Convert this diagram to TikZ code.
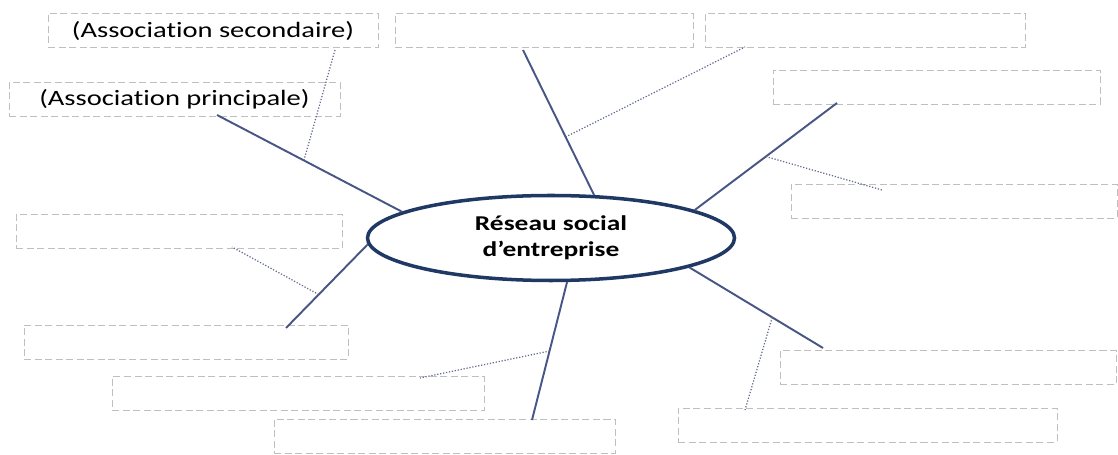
\documentclass[tikz,border=0pt]{standalone}
\usepackage{fontspec}
\setmainfont{Carlito}[FakeStretch=1.3, Ligatures=NoCommon]
\usetikzlibrary{shapes.geometric}
\definecolor{hubline}{RGB}{31,56,100}
\definecolor{spoke}{RGB}{72,86,134}
\definecolor{twig}{RGB}{96,106,140}
\tikzset{
  slot/.style={draw=black!25, dash pattern=on 4pt off 2pt, line width=0.5pt,
    minimum height=34*0.02cm, inner sep=0pt, font=\fontsize{12.5}{15}\selectfont},
  hub/.style={ellipse, draw=hubline, line width=2pt, minimum width=367*0.02cm,
    minimum height=85*0.02cm, align=center, font=\bfseries\fontsize{12}{14.7}\selectfont},
  spokeline/.style={color=spoke, line width=1.1pt},
  twigline/.style={color=twig, line width=0.7pt, densely dotted}
}
\begin{document}
\begin{tikzpicture}[x=0.02cm, y=-0.02cm]
      \useasboundingbox (0,0) rectangle (1118,455);
      \draw
        (551,238) node[hub] (hub) {Réseau social\\d’entreprise}
        (213,30.5) node[slot, minimum width=330*0.02cm] (sec) {(Association secondaire)}
        (544,30.5) node[slot, minimum width=298*0.02cm] (topmid) {}
        (865,30.5) node[slot, minimum width=320*0.02cm] (topright) {}
        (936.5,87) node[slot, minimum width=327*0.02cm] (right1) {}
        (954,201) node[slot, minimum width=326*0.02cm] (right2) {}
        (174.5,99) node[slot, minimum width=331*0.02cm] (pri) {(Association principale)}
        (179,231.5) node[slot, minimum width=326*0.02cm] (left1) {}
        (186,342) node[slot, minimum width=324*0.02cm] (left2) {}
        (298,393.5) node[slot, minimum width=372*0.02cm] (botleft) {}
        (444.5,436) node[slot, minimum width=341*0.02cm] (bot) {}
        (948,367.5) node[slot, minimum width=336*0.02cm] (botright1) {}
        (867.5,425) node[slot, minimum width=379*0.02cm] (botright2) {};
      \draw
        (217,115) coordinate (pa)
        (523,50) coordinate (pb)
        (837,103) coordinate (pc)
        (286,328) coordinate (pd)
        (532,420) coordinate (pe)
        (823,348) coordinate (pf)
        (335,50) coordinate (qa)
        (745,47) coordinate (qb)
        (882,190) coordinate (qc)
        (232,247) coordinate (qd)
        (420,378) coordinate (qe)
        (745,410) coordinate (qf);
      \begin{scope}[spokeline]
        \draw (hub.170) -- coordinate[pos=0.53] (ma) (pa);
        \draw (hub.45) -- coordinate[pos=0.4] (mb) (pb);
        \draw (hub.11) -- coordinate[pos=0.5] (mc) (pc);
        \draw (hub.182) -- coordinate[pos=0.6] (md) (pd);
        \draw (hub.290) -- coordinate[pos=0.5] (me) (pe);
        \draw (hub.348) -- coordinate[pos=0.62] (mf) (pf);
      \end{scope}
      \begin{scope}[twigline]
        \draw (ma) to (qa);
        \draw (mb) to (qb);
        \draw (mc) to (qc);
        \draw (md) to (qd);
        \draw (me) to (qe);
        \draw (mf) to (qf);
      \end{scope}
    \end{tikzpicture}
\end{document}
